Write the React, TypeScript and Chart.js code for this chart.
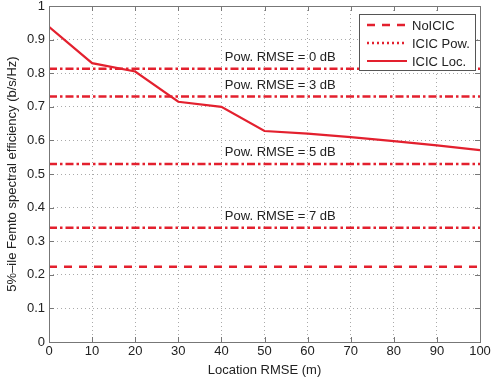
import React, { useEffect, useRef } from 'react';
import { Chart, registerables } from 'chart.js';
Chart.register(...registerables);

const locRmse = [0, 10, 20, 30, 40, 50, 60, 70, 80, 90, 100];
const icicLoc = [0.938, 0.830, 0.805, 0.715, 0.700, 0.628, 0.620, 0.610, 0.598, 0.585, 0.571];
const powRmseDb = [0, 3, 5, 7];
const icicPow = [0.813, 0.731, 0.530, 0.340];
const noIcic = 0.224;
const xRange = [0, 100];
const legendLabels = ['NoICIC', 'ICIC Pow.', 'ICIC Loc.'];
const xTitle = 'Location RMSE (m)';
const yTitle = '5%\u2013ile Femto spectral efficiency (b/s/Hz)';

const RED = '#e3202e';
const FONT = 'Liberation Sans, Arial, Helvetica, sans-serif';

export default function App() {
  const ref = useRef<HTMLCanvasElement>(null);
  useEffect(() => {
    document.body.style.margin = '0';
    const canvas = ref.current!;
    const datasets: any[] = [];
    datasets.push({
      label: legendLabels[0],
      data: xRange.map((x) => ({ x, y: noIcic })),
      borderColor: RED,
      borderWidth: 2.5,
      borderDash: [8, 7],
      pointRadius: 0,
    });
    powRmseDb.forEach((db, i) => {
      datasets.push({
        label: legendLabels[1],
        powDb: db,
        data: xRange.map((x) => ({ x, y: icicPow[i] })),
        borderColor: RED,
        borderWidth: 2.5,
        borderDash: [8, 3, 2.5, 3],
        pointRadius: 0,
      });
    });
    datasets.push({
      label: legendLabels[2],
      data: locRmse.map((x, i) => ({ x, y: icicLoc[i] })),
      borderColor: RED,
      borderWidth: 2.2,
      pointRadius: 0,
      tension: 0,
    });

    const overlay = {
      id: 'overlay',
      afterDatasetsDraw(chart: any) {
        const ctx = chart.ctx;
        const xs = chart.scales.x;
        const ys = chart.scales.y;
        const a = chart.chartArea;
        ctx.save();
        // Pow labels
        ctx.fillStyle = '#222';
        ctx.font = `13px ${FONT}`;
        ctx.textBaseline = 'middle';
        ctx.textAlign = 'left';
        powRmseDb.forEach((db, i) => {
          ctx.fillText(`Pow. RMSE = ${db} dB`, xs.getPixelForValue(40.8), ys.getPixelForValue(icicPow[i]) - 11);
        });
        // box
        ctx.strokeStyle = '#777';
        ctx.lineWidth = 1;
        ctx.setLineDash([]);
        ctx.strokeRect(Math.round(a.left) + 0.5, Math.round(a.top) + 0.5, Math.round(a.right - a.left), Math.round(a.bottom - a.top));
        // inward ticks
        ctx.beginPath();
        for (let v = 0; v <= 100; v += 10) {
          const px = Math.round(xs.getPixelForValue(v)) + 0.5;
          ctx.moveTo(px, a.bottom); ctx.lineTo(px, a.bottom - 5);
          ctx.moveTo(px, a.top); ctx.lineTo(px, a.top + 5);
        }
        for (let k = 0; k <= 10; k++) {
          const py = Math.round(ys.getPixelForValue(k / 10)) + 0.5;
          ctx.moveTo(a.left, py); ctx.lineTo(a.left + 5, py);
          ctx.moveTo(a.right, py); ctx.lineTo(a.right - 5, py);
        }
        ctx.stroke();
        // legend
        const lx = 359.5, ly = 14.5, lw = 116, lh = 56;
        ctx.fillStyle = '#fff';
        ctx.fillRect(lx, ly, lw, lh);
        ctx.strokeStyle = '#555';
        ctx.strokeRect(lx, ly, lw, lh);
        const dashes = [[8, 7], [2, 3], []];
        const widths = [2.5, 2.5, 2.2];
        legendLabels.forEach((lab, i) => {
          const y = 25 + i * 18;
          ctx.strokeStyle = RED;
          ctx.lineWidth = widths[i];
          ctx.setLineDash(dashes[i]);
          ctx.beginPath();
          ctx.moveTo(367, y);
          ctx.lineTo(407, y);
          ctx.stroke();
          ctx.setLineDash([]);
          ctx.fillStyle = '#222';
          ctx.fillText(lab, 412, y + 1);
        });
        ctx.restore();
      },
    };

    const chart = new Chart(canvas, {
      type: 'line',
      data: { datasets },
      options: {
        animation: false,
        responsive: false,
        events: [],
        layout: { padding: { top: 6, right: 11, left: 0, bottom: 0 } },
        plugins: { legend: { display: false }, tooltip: { enabled: false } },
        scales: {
          x: {
            type: 'linear',
            min: 0,
            max: 100,
            ticks: { stepSize: 10, color: '#222', font: { family: FONT, size: 13 }, padding: 2, maxRotation: 0 },
            grid: { color: '#aaa', drawTicks: false, lineWidth: 1 },
            border: { display: false, dash: [1, 3] },
            title: { display: true, text: xTitle, color: '#222', font: { family: FONT, size: 13 }, padding: { top: 0, bottom: 0 } },
            afterFit(s: any) { s.height = 36; s.paddingLeft = 0; s.paddingRight = 0; },
          },
          y: {
            type: 'linear',
            min: 0,
            max: 1,
            ticks: {
              stepSize: 0.1,
              color: '#222',
              font: { family: FONT, size: 13 },
              padding: 4,
              callback: (v: any) => String(Number(Number(v).toFixed(1))),
            },
            grid: { color: '#aaa', drawTicks: false, lineWidth: 1 },
            border: { display: false, dash: [1, 3] },
            title: { display: true, text: yTitle, color: '#222', font: { family: FONT, size: 13 }, padding: { top: 5, bottom: 0 } },
            afterFit(s: any) { s.width = 49; s.paddingTop = 0; s.paddingBottom = 0; },
          },
        },
      },
      plugins: [overlay],
    });
    return () => chart.destroy();
  }, []);
  return (
    <div style={{ width: 491, height: 378 }}>
      <canvas ref={ref} width={491} height={378} style={{ display: 'block' }} />
    </div>
  );
}
